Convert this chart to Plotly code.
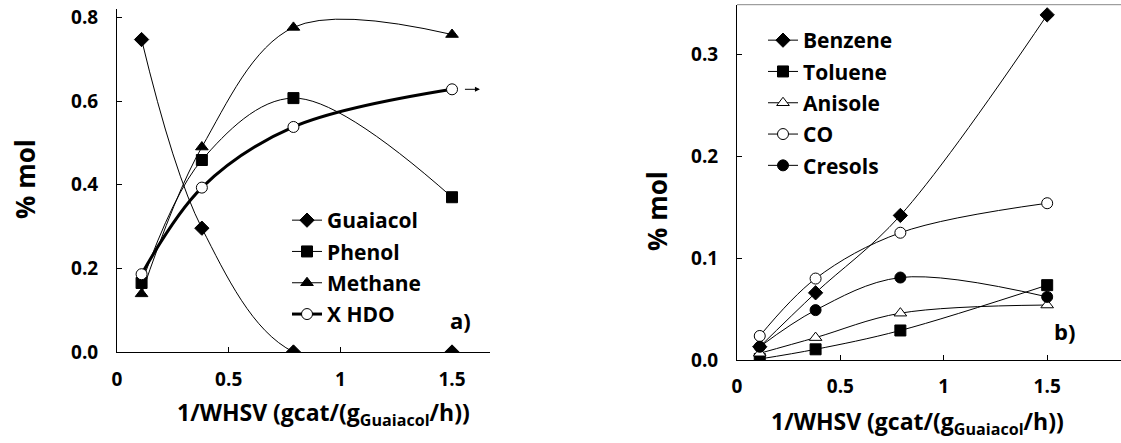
import plotly.graph_objects as go

# ---- data ----
x_whsv = [0.11, 0.38, 0.79, 1.5]

guaiacol = [0.747, 0.296, 0.0, 0.0]
phenol = [0.165, 0.459, 0.607, 0.370]
methane = [0.139, 0.490, 0.776, 0.759]
x_hdo = [0.186, 0.393, 0.538, 0.628]

benzene = [0.013, 0.066, 0.142, 0.339]
toluene = [0.001, 0.0105, 0.029, 0.0735]
anisole = [0.0066, 0.022, 0.046, 0.054]
co = [0.0236, 0.080, 0.125, 0.154]
cresols = [0.013, 0.049, 0.081, 0.062]

left_ticks_y = [0.0, 0.2, 0.4, 0.6, 0.8]
left_ticklabels_y = ["0.0", "0.2", "0.4", "0.6", "0.8"]
right_ticks_y = [0.0, 0.1, 0.2, 0.3]
right_ticklabels_y = ["0.0", "0.1", "0.2", "0.3"]
ticks_x = [0, 0.5, 1, 1.5]
ticklabels_x = ["0", "0.5", "1", "1.5"]

FONT = "Open Sans"
W, H = 1121, 443

def b(s):
    return "<b>" + s + "</b>"

fig = go.Figure()

def add(x, y, name, symbol, color_fill, xa, ya, legend, width=1, size=11):
    fig.add_trace(go.Scatter(
        x=x, y=y, name=b(name), mode="lines+markers", legendgroup=name,
        line=dict(color="black", width=width, shape="spline", smoothing=1),
        marker=dict(symbol=symbol, size=size, color=color_fill,
                    line=dict(color="black", width=1)),
        xaxis=xa, yaxis=ya, legend=legend,
    ))

add(x_whsv, guaiacol, "Guaiacol", "diamond", "black", "x", "y", "legend")
add(x_whsv, phenol, "Phenol", "square", "black", "x", "y", "legend")
add(x_whsv, methane, "Methane", "triangle-up", "black", "x", "y", "legend")
add(x_whsv, x_hdo, "X HDO", "circle", "white", "x", "y", "legend", width=3)

add(x_whsv, benzene, "Benzene", "diamond", "black", "x2", "y2", "legend2")
add(x_whsv, toluene, "Toluene", "square", "black", "x2", "y2", "legend2")
add(x_whsv, anisole, "Anisole", "triangle-up", "white", "x2", "y2", "legend2")
add(x_whsv, co, "CO", "circle", "white", "x2", "y2", "legend2")
add(x_whsv, cresols, "Cresols", "circle", "black", "x2", "y2", "legend2")

tickfont = dict(family=FONT, size=19, color="black")
axis_common = dict(showgrid=False, zeroline=False, showline=True, linecolor="black",
                   linewidth=1, ticks="inside", ticklen=5, tickcolor="black",
                   tickfont=tickfont, automargin=False)

legfont = dict(family=FONT, size=21, color="black")

fig.update_layout(
    width=W, height=H, autosize=False,
    margin=dict(l=0, r=0, t=0, b=0, pad=0, autoexpand=False),
    paper_bgcolor="white", plot_bgcolor="white",
    showlegend=True,
    xaxis=dict(domain=[117 / W, 490 / W], range=[0, 1.67], tickvals=ticks_x,
               ticktext=[b(t) for t in ticklabels_x], anchor="y",
               ticklabelstandoff=10, **axis_common),
    yaxis=dict(domain=[1 - 352 / H, 1 - 9 / H], range=[0, 0.82], tickvals=left_ticks_y,
               ticktext=[b(t) for t in left_ticklabels_y], anchor="x",
               ticklabelstandoff=14, **axis_common),
    xaxis2=dict(domain=[737 / W, 1.0], range=[0, 1.857], tickvals=ticks_x,
                ticktext=[b(t) for t in ticklabels_x], anchor="y2",
                ticklabelstandoff=9, **axis_common),
    yaxis2=dict(domain=[1 - 360 / H, 1 - 4.7 / H], range=[0, 0.349], tickvals=right_ticks_y,
                ticktext=[b(t) for t in right_ticklabels_y], anchor="x2",
                ticklabelstandoff=14, **axis_common),
    legend=dict(x=287 / W, y=1 - 200 / H, xanchor="left", yanchor="top",
                font=legfont, bgcolor="rgba(0,0,0,0)", tracegroupgap=1,
                itemwidth=30, borderwidth=0),
    legend2=dict(x=763 / W, y=1 - 20 / H, xanchor="left", yanchor="top",
                 font=legfont, bgcolor="rgba(0,0,0,0)", tracegroupgap=1,
                 itemwidth=30, borderwidth=0),
)

titlefont = dict(family=FONT, size=23, color="black")
xtitle = b("1/WHSV (gcat/(g<sub>Guaiacol</sub>/h))")
fig.add_annotation(text=xtitle, x=323 / W, y=1 - 413 / H, xref="paper", yref="paper",
                   showarrow=False, font=titlefont, xanchor="center", yanchor="middle")
fig.add_annotation(text=xtitle, x=917 / W, y=1 - 422 / H, xref="paper", yref="paper",
                   showarrow=False, font=titlefont, xanchor="center", yanchor="middle")
ytfont = dict(family=FONT, size=26, color="black")
fig.add_annotation(text=b("% mol"), x=25 / W, y=1 - 179 / H, xref="paper", yref="paper",
                   showarrow=False, font=ytfont,
                   textangle=-90, xanchor="center", yanchor="middle")
fig.add_annotation(text=b("% mol"), x=657 / W, y=1 - 211 / H, xref="paper", yref="paper",
                   showarrow=False, font=ytfont,
                   textangle=-90, xanchor="center", yanchor="middle")

panelfont = dict(family=FONT, size=22, color="black")
fig.add_annotation(text=b("a)"), x=0.955, y=0.045, xref="x domain", yref="y domain",
                   showarrow=False, font=panelfont, xanchor="right", yanchor="bottom")
fig.add_annotation(text=b("b)"), x=0.885, y=0.033, xref="x2 domain", yref="y2 domain",
                   showarrow=False, font=panelfont, xanchor="right", yanchor="bottom")

# arrow pointing to the right axis for X HDO
fig.add_annotation(x=x_whsv[-1] + 0.125, y=x_hdo[-1], xref="x", yref="y",
                   ax=-18, ay=0, axref="pixel", ayref="pixel", showarrow=True,
                   arrowhead=2, arrowsize=1, arrowwidth=1, arrowcolor="black", text=" ")

# top border of the right panel
fig.add_shape(type="line", xref="x2 domain", yref="y2 domain", x0=0, x1=1, y0=1, y1=1,
              line=dict(color="#888888", width=1))

fig.write_html("out.html", config={"displayModeBar": False, "responsive": False},
               post_script="document.body.style.margin='0';document.body.style.overflow='hidden';")
